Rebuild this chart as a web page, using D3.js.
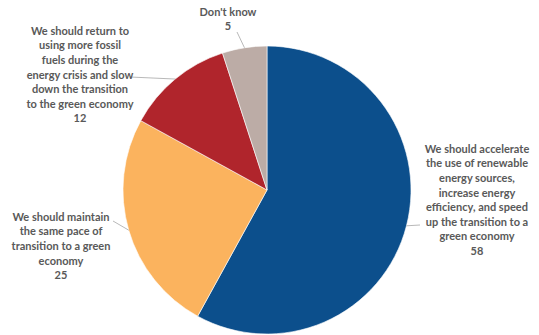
<!DOCTYPE html>
<html><head><meta charset="utf-8">
<script src="https://cdn.jsdelivr.net/npm/d3@7"></script>
<style>html,body{margin:0;padding:0;background:#fff;}svg{display:block;}</style>
</head><body>
<svg id="c" width="539" height="335"></svg>
<script>
const categories = [
  ["We should accelerate","the use of renewable","energy sources,","increase energy","efficiency, and speed","up the transition to a","green economy"],
  ["We should maintain","the same pace of","transition to a green","economy"],
  ["We should return to","using more fossil","fuels during the","energy crisis and slow","down the transition","to the green economy"],
  ["Don't know"]
];
const values = [58, 25, 12, 5];
const colors = ["#0c4f8c", "#fbb35e", "#b0252c", "#bcaca6"];

// layout (not data)
const cx = 267, cy = 190, R = 144;
const labelLayout = [
  {x: 477, y: 150, lx: 420, ly: 225},
  {x: 61,  y: 218, lx: 113, ly: 221},
  {x: 80,  y: 32,  lx: 130, ly: 77},
  {x: 228, y: 13,  lx: 237, ly: 32}
];
const lineH = 14.6;

const svg = d3.select("#c");
const g = svg.append("g").attr("transform", `translate(${cx},${cy})`);
const data = values.map((v, i) => ({v, i}));
const pie = d3.pie().value(d => d.v).sort(null);
const arcs = pie(data);
const arc = d3.arc().innerRadius(0).outerRadius(R);

g.selectAll("path.slice").data(arcs).join("path")
  .attr("class", "slice")
  .attr("d", arc)
  .attr("fill", d => colors[d.data.i])
  .attr("stroke", "#fff").attr("stroke-width", 0.6);

// leader lines
arcs.forEach(a => {
  const m = (a.startAngle + a.endAngle) / 2;
  const px = cx + R * Math.sin(m), py = cy - R * Math.cos(m);
  const L = labelLayout[a.data.i];
  svg.append("line")
    .attr("x1", px).attr("y1", py).attr("x2", L.lx).attr("y2", L.ly)
    .attr("stroke", "#a6a6a6").attr("stroke-width", 0.8);
});

// labels
categories.forEach((lines, i) => {
  const L = labelLayout[i];
  const t = svg.append("text")
    .attr("text-anchor", "middle")
    .attr("font-family", "Lato, 'Open Sans', sans-serif")
    .attr("font-weight", 700)
    .attr("font-size", 11)
    .attr("fill", "#595959");
  lines.concat([String(values[i])]).forEach((s, k) => {
    t.append("tspan").attr("x", L.x).attr("y", L.y + k * lineH)
      .attr("dominant-baseline", "middle").text(s);
  });
});
</script>
</body></html>
